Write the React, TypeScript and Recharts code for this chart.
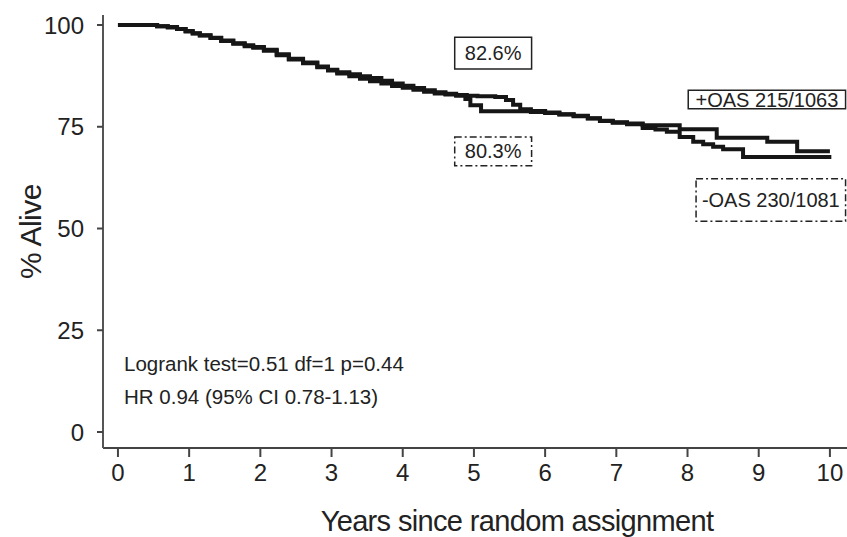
import React from 'react';
import { LineChart, Line, XAxis, YAxis, ReferenceArea } from 'recharts';

// years since random assignment (x) and % alive (y)
const yearTicks = [0, 1, 2, 3, 4, 5, 6, 7, 8, 9, 10];
const aliveTicks = [0, 25, 50, 75, 100];

const plusOasYears = [
  0, 0.55, 0.7, 0.83, 0.95, 1.05, 1.15, 1.3, 1.45, 1.62, 1.78, 1.9, 2.05, 2.23, 2.4, 2.6,
  2.8, 2.95, 3.08, 3.25, 3.4, 3.54, 3.7, 3.85, 4.0, 4.15, 4.3, 4.45, 4.6, 4.75, 4.9, 5.05,
  5.3, 5.45, 5.55, 5.65, 5.8, 6.0, 6.2, 6.4, 6.6, 6.77, 6.95, 7.15, 7.37, 7.89, 8.41, 9.12,
  9.54, 10.0,
];
const plusOasAlive = [
  100, 99.7, 99.5, 99.0, 98.5, 98.0, 97.5, 96.9, 96.2, 95.5, 95.0, 94.6, 93.9, 92.8, 91.7, 90.8,
  89.8, 89.0, 88.4, 87.9, 87.4, 87.0, 86.3, 85.6, 85.1, 84.5, 84.0, 83.5, 83.1, 82.8, 82.6, 82.5,
  82.3, 81.6, 80.4, 79.3, 78.9, 78.5, 78.1, 77.7, 77.1, 76.5, 76.1, 75.8, 75.4, 74.4, 72.3, 71.3,
  69.0, 69.0,
];

const minusOasYears = [
  0, 0.55, 0.7, 0.83, 0.95, 1.05, 1.15, 1.3, 1.45, 1.62, 1.78, 1.9, 2.05, 2.23, 2.4, 2.6,
  2.8, 2.95, 3.08, 3.25, 3.4, 3.54, 3.7, 3.85, 4.0, 4.15, 4.3, 4.45, 4.6, 4.75, 4.88, 4.95,
  5.1, 5.8, 6.0, 6.2, 6.4, 6.6, 6.77, 6.95, 7.15, 7.37, 7.55, 7.71, 7.89, 8.08, 8.22, 8.36,
  8.5, 8.78, 10.02,
];
const minusOasAlive = [
  100, 99.7, 99.4, 99.0, 98.4, 97.9, 97.4, 96.8, 96.1, 95.4, 94.8, 94.4, 93.7, 92.6, 91.5, 90.6,
  89.6, 88.8, 88.1, 87.4, 86.8, 86.2, 85.6, 85.0, 84.6, 84.1, 83.6, 83.2, 82.9, 82.6, 81.8, 80.3,
  78.8, 78.6, 78.4, 78.0, 77.6, 77.0, 76.4, 76.0, 75.6, 74.7, 74.3, 73.8, 72.5, 71.3, 70.7, 70.1,
  69.5, 67.6, 67.6,
];

const toSeries = (years: number[], alive: number[]) =>
  years.map((t, i) => ({ t, alive: alive[i] }));

const plusOas = toSeries(plusOasYears, plusOasAlive);
const minusOas = toSeries(minusOasYears, minusOasAlive);

const ink = '#161616';
const font = 'Liberation Sans, Arial, sans-serif';

export default function App() {
  return (
    <div style={{ position: 'absolute', left: 0, top: 0, background: '#fff', fontFamily: font }}>
      <LineChart width={847} height={537} margin={{ top: 15, right: 0, bottom: 0, left: 0 }}>
        <XAxis
          type="number"
          dataKey="t"
          domain={[-0.21, 10.24]}
          allowDataOverflow
          ticks={yearTicks}
          interval={0}
          height={89}
          tickSize={9}
          tickMargin={7}
          axisLine={{ stroke: '#444', strokeWidth: 2 }}
          tickLine={{ stroke: '#444', strokeWidth: 2 }}
          tick={{ fill: '#222', fontSize: 24 }}
          label={{
            value: 'Years since random assignment',
            position: 'insideBottom',
            offset: 6,
            dx: 42,
            fontSize: 29,
            letterSpacing: -0.65,
            fill: '#222',
          }}
        />
        <YAxis
          type="number"
          domain={[-3.93, 102.46]}
          allowDataOverflow
          ticks={aliveTicks}
          interval={0}
          width={103}
          tickSize={6}
          tickMargin={13}
          axisLine={{ stroke: '#555', strokeWidth: 2 }}
          tickLine={{ stroke: '#444', strokeWidth: 2 }}
          tick={{ fill: '#222', fontSize: 24 }}
          label={{
            value: '% Alive',
            angle: -90,
            position: 'insideLeft',
            offset: 30,
            style: { textAnchor: 'middle' },
            fontSize: 30,
            letterSpacing: -0.5,
            fill: '#222',
          }}
        />

        <Line
          data={minusOas}
          dataKey="alive"
          type="stepAfter"
          stroke={ink}
          strokeWidth={4}
          dot={false}
          isAnimationActive={false}
        />
        <Line
          data={plusOas}
          dataKey="alive"
          type="stepAfter"
          stroke={ink}
          strokeWidth={4}
          dot={false}
          isAnimationActive={false}
        />

        <ReferenceArea
          x1={4.73} x2={5.81} y1={89.2} y2={97.0}
          ifOverflow="visible"
          fill="#fff" fillOpacity={1} stroke="#222" strokeWidth={1.5}
          label={{ value: '82.6%', position: 'center', fontSize: 20, fill: '#222' }}
        />
        <ReferenceArea
          x1={4.73} x2={5.81} y1={65.4} y2={72.5}
          ifOverflow="visible"
          fill="#fff" fillOpacity={1} stroke="#222" strokeWidth={1.5} strokeDasharray="7 3 2 3"
          label={{ value: '80.3%', position: 'center', fontSize: 20, fill: '#222' }}
        />
        <ReferenceArea
          x1={8.01} x2={10.22} y1={79.4} y2={84.0}
          ifOverflow="visible"
          fill="#fff" fillOpacity={1} stroke="#222" strokeWidth={1.5}
          label={{ value: '+OAS 215/1063', position: 'center', fontSize: 20, fill: '#222' }}
        />
        <ReferenceArea
          x1={8.12} x2={10.22} y1={51.8} y2={62.2}
          ifOverflow="visible"
          fill="#fff" fillOpacity={1} stroke="#222" strokeWidth={1.5} strokeDasharray="7 3 2 3"
          label={{ value: '-OAS 230/1081', position: 'center', fontSize: 20, fill: '#222' }}
        />

        <text x={124} y={371} fontSize={20.5} fill="#222">Logrank test=0.51 df=1 p=0.44</text>
        <text x={124} y={404} fontSize={20.5} fill="#222">HR 0.94 (95% CI 0.78-1.13)</text>
      </LineChart>
    </div>
  );
}
